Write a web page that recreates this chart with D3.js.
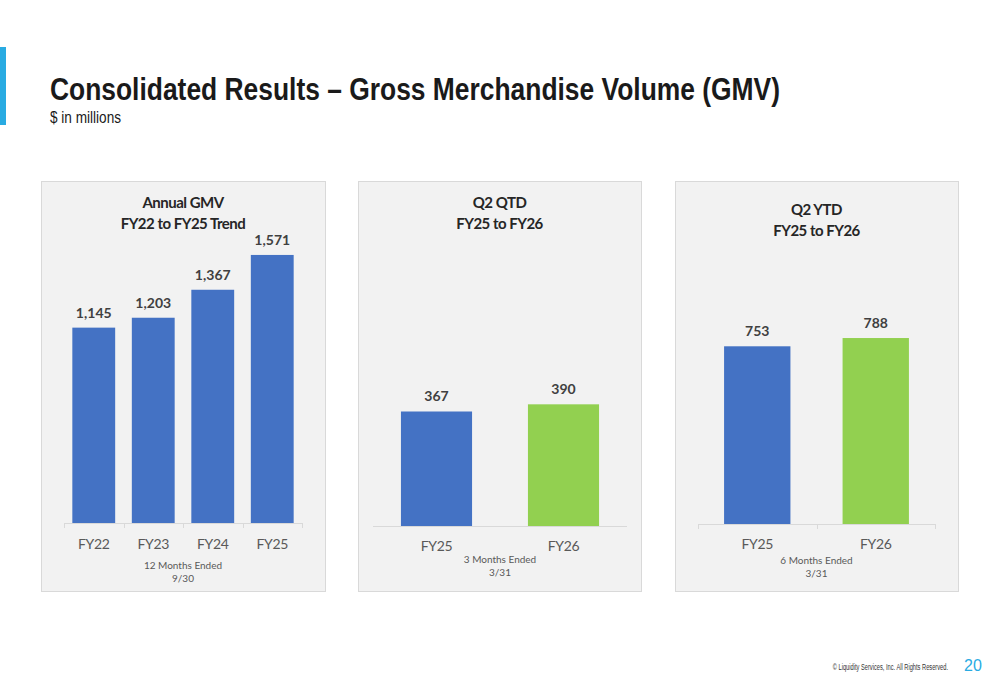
<!DOCTYPE html>
<html>
<head>
<meta charset="utf-8">
<script src="https://cdn.jsdelivr.net/npm/d3@7"></script>
<style>
  body { margin: 0; background: #fff; }
  svg { display: block; }
</style>
</head>
<body>
<script>
// data
var annualCats = ["FY22", "FY23", "FY24", "FY25"];
var annualValues = [1145, 1203, 1367, 1571];
var qtdCats = ["FY25", "FY26"];
var qtdValues = [367, 390];
var ytdCats = ["FY25", "FY26"];
var ytdValues = [753, 788];

var blue = "#4472c4", green = "#92d050";
var chartFont = "Lato, 'Open Sans', sans-serif";
var slideFont = "'Liberation Sans', Arial, sans-serif";

var svg = d3.select("body").append("svg")
  .attr("width", 1000)
  .attr("height", 685);

svg.append("rect").attr("width", 1000).attr("height", 685).attr("fill", "#fff");

// slide header
svg.append("rect")
  .attr("x", 0).attr("y", 47).attr("width", 6).attr("height", 78)
  .attr("fill", "#29abe2");

svg.append("text")
  .attr("x", 50).attr("y", 100)
  .attr("font-family", slideFont)
  .attr("font-weight", "bold")
  .attr("font-size", 32)
  .attr("fill", "#1a1a1a")
  .attr("textLength", 730)
  .attr("lengthAdjust", "spacingAndGlyphs")
  .text("Consolidated Results \u2013 Gross Merchandise Volume (GMV)");

svg.append("text")
  .attr("x", 50).attr("y", 123)
  .attr("font-family", slideFont)
  .attr("font-size", 16)
  .attr("fill", "#1a1a1a")
  .attr("textLength", 71)
  .attr("lengthAdjust", "spacingAndGlyphs")
  .text("$ in millions");

// footer (condensed by scaling)
svg.append("g")
  .attr("transform", "translate(948,670) scale(0.6,1)")
  .append("text")
  .attr("text-anchor", "end")
  .attr("font-family", slideFont)
  .attr("font-size", 9.5)
  .attr("fill", "#333")
  .text("\u00a9 Liquidity Services, Inc. All Rights Reserved.");

svg.append("text")
  .attr("x", 964).attr("y", 671)
  .attr("font-family", slideFont)
  .attr("font-size", 16)
  .attr("fill", "#29abe2")
  .text("20");

// one chart panel
var drawPanel = function(p) {
  var g = svg.append("g");

  g.append("rect")
    .attr("x", p.box[0] + 0.5).attr("y", p.box[1] + 0.5)
    .attr("width", p.box[2]).attr("height", p.box[3])
    .attr("fill", "#f2f2f2")
    .attr("stroke", "#d9d9d9");

  var x = d3.scaleBand()
    .domain(p.cats)
    .range([p.x0, p.x1])
    .paddingInner(p.pad)
    .paddingOuter(p.pad / 2);

  var y = d3.scaleLinear()
    .domain([0, p.ymax])
    .range([p.base, p.top]);

  // axis line
  g.append("line")
    .attr("x1", p.x0).attr("x2", p.x1)
    .attr("y1", p.base + 0.5).attr("y2", p.base + 0.5)
    .attr("stroke", "#d9d9d9");

  if (p.ticks) {
    d3.range(p.cats.length + 1).forEach(function(i) {
      var tx = Math.round(p.x0 + i * x.step()) + 0.5;
      g.append("line")
        .attr("x1", tx).attr("x2", tx)
        .attr("y1", p.base).attr("y2", p.base + 5)
        .attr("stroke", "#d9d9d9");
    });
  }

  g.selectAll("rect.bar")
    .data(p.values)
    .enter().append("rect")
    .attr("class", "bar")
    .attr("x", function(d, i) { return x(p.cats[i]); })
    .attr("width", x.bandwidth())
    .attr("y", function(d) { return y(d); })
    .attr("height", function(d) { return p.base - y(d); })
    .attr("fill", function(d, i) { return p.colors[i]; });

  g.selectAll("text.val")
    .data(p.values)
    .enter().append("text")
    .attr("class", "val")
    .attr("x", function(d, i) { return x(p.cats[i]) + x.bandwidth() / 2; })
    .attr("y", function(d) { return y(d) - 10; })
    .attr("text-anchor", "middle")
    .attr("font-family", chartFont)
    .attr("font-weight", "bold")
    .attr("font-size", 14)
    .attr("fill", "#404040")
    .text(function(d) { return d3.format(",")(d); });

  g.selectAll("text.cat")
    .data(p.cats)
    .enter().append("text")
    .attr("class", "cat")
    .attr("x", function(d) { return x(d) + x.bandwidth() / 2; })
    .attr("y", p.catY)
    .attr("text-anchor", "middle")
    .attr("font-family", chartFont)
    .attr("font-size", 14)
    .attr("fill", "#595959")
    .attr("letter-spacing", -0.4)
    .text(function(d) { return d; });

  p.note.forEach(function(t, i) {
    g.append("text")
      .attr("x", (p.x0 + p.x1) / 2)
      .attr("y", p.noteY + i * 13)
      .attr("text-anchor", "middle")
      .attr("font-family", chartFont)
      .attr("font-size", 10)
      .attr("fill", "#595959")
      .text(t);
  });

  p.title.forEach(function(t, i) {
    g.append("text")
      .attr("x", (p.box[0] + p.box[0] + p.box[2]) / 2)
      .attr("y", p.titleY + i * 21)
      .attr("text-anchor", "middle")
      .attr("font-family", chartFont)
      .attr("font-weight", "bold")
      .attr("font-size", 15)
      .attr("fill", "#262626")
      .attr("letter-spacing", -0.5)
      .text(t);
  });
};

drawPanel({
  box: [41, 181, 284, 410],
  cats: annualCats, values: annualValues,
  colors: [blue, blue, blue, blue],
  x0: 64, x1: 302, pad: 0.28,
  base: 523, top: 250, ymax: 1600,
  ticks: true,
  catY: 549, noteY: 569,
  note: ["12 Months Ended", "9/30"],
  title: ["Annual GMV", "FY22 to FY25 Trend"], titleY: 208
});

drawPanel({
  box: [358, 181, 283, 410],
  cats: qtdCats, values: qtdValues,
  colors: [blue, green],
  x0: 373, x1: 627, pad: 0.44,
  base: 526, top: 385.6, ymax: 450,
  ticks: false,
  catY: 551, noteY: 563,
  note: ["3 Months Ended", "3/31"],
  title: ["Q2 QTD", "FY25 to FY26"], titleY: 208
});

drawPanel({
  box: [675, 181, 283, 410],
  cats: ytdCats, values: ytdValues,
  colors: [blue, green],
  x0: 698, x1: 935, pad: 0.44,
  base: 524, top: 335.2, ymax: 800,
  ticks: true,
  catY: 549, noteY: 564,
  note: ["6 Months Ended", "3/31"],
  title: ["Q2 YTD", "FY25 to FY26"], titleY: 215
});
</script>
</body>
</html>
